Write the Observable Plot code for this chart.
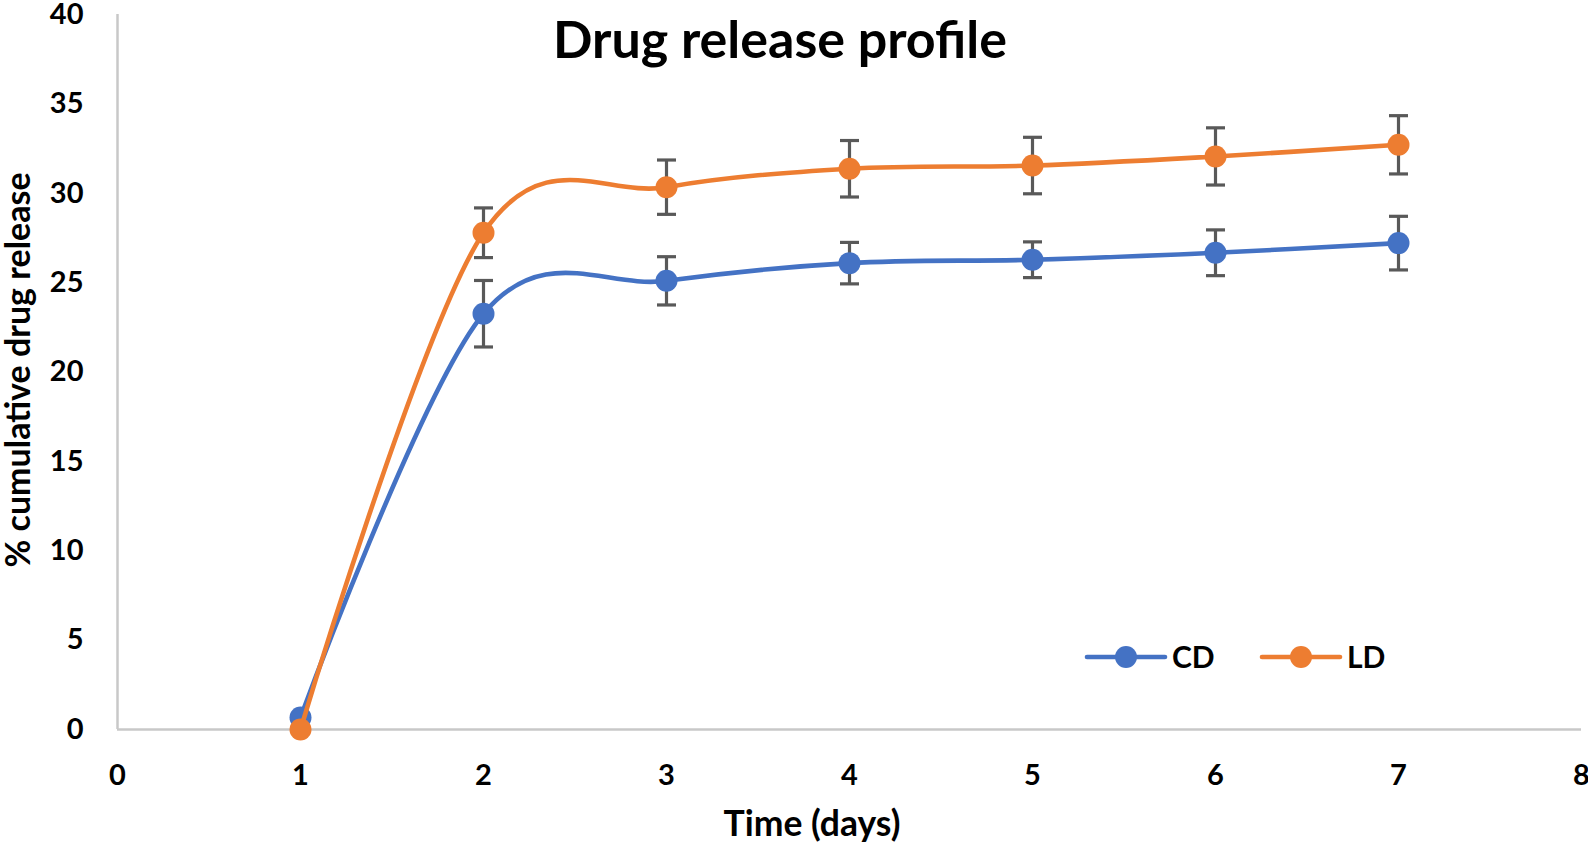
<!DOCTYPE html>
<html>
<head>
<meta charset="utf-8">
<script src="https://cdn.jsdelivr.net/npm/d3@7"></script>
<script src="https://cdn.jsdelivr.net/npm/@observablehq/plot@0.6"></script>
<style>
  html, body { margin: 0; padding: 0; background: #fff; }
  #wrap { position: relative; width: 1588px; height: 845px; overflow: hidden; }
  #wrap > svg.plot { position: absolute; left: 0; top: 0; }
  #overlay { position: absolute; left: 0; top: 0; pointer-events: none; }
</style>
</head>
<body>
<div id="wrap"></div>
<script>
// ---- data ----
const days = [1, 2, 3, 4, 5, 6, 7];
const seriesNames = ["CD", "LD"];
const seriesColors = ["#4472C4", "#ED7D31"];
const cdValues = [0.67, 23.26, 25.10, 26.09, 26.28, 26.67, 27.21];
const cdErrors = [0, 1.86, 1.35, 1.16, 1.00, 1.28, 1.50];
const ldValues = [0.0, 27.79, 30.34, 31.37, 31.55, 32.06, 32.71];
const ldErrors = [0, 1.39, 1.52, 1.58, 1.58, 1.60, 1.63];
const xTicks = [0, 1, 2, 3, 4, 5, 6, 7, 8];
const yTicks = [0, 5, 10, 15, 20, 25, 30, 35, 40];
const titleText = "Drug release profile";
const xLabel = "Time (days)";
const yLabel = "% cumulative drug release";

const seriesValues = {CD: cdValues, LD: ldValues};
const seriesErrors = {CD: cdErrors, LD: ldErrors};
const rows = seriesNames.flatMap(s => days.map((d, i) => ({
  series: s, day: d, value: seriesValues[s][i], err: seriesErrors[s][i]
})));

const W = 1588, H = 845;
const FONT = "Lato, 'Open Sans', sans-serif";
const errColor = "#595959";
const capSymbol = {draw(ctx) { ctx.moveTo(-9.5, 0); ctx.lineTo(9.5, 0); }};

const seriesMarks = seriesNames.flatMap(s => {
  const sub = rows.filter(r => r.series === s);
  const withErr = sub.filter(r => r.err > 0);
  return [
    Plot.line(sub, {x: "day", y: "value", stroke: "series", strokeWidth: 4.6,
      curve: "cardinal", strokeLinecap: "round", strokeLinejoin: "round"}),
    Plot.ruleX(withErr, {x: "day", y1: r => r.value - r.err, y2: r => r.value + r.err,
      stroke: errColor, strokeWidth: 3.2}),
    Plot.dot(withErr, {x: "day", y: r => r.value + r.err, symbol: capSymbol, r: 5,
      fill: "none", stroke: errColor, strokeWidth: 3.2}),
    Plot.dot(withErr, {x: "day", y: r => r.value - r.err, symbol: capSymbol, r: 5,
      fill: "none", stroke: errColor, strokeWidth: 3.2}),
    Plot.dot(sub, {x: "day", y: "value", fill: "series", r: 11, stroke: "none"})
  ];
});

const chart = Plot.plot({
  width: W,
  height: H,
  marginTop: 14,
  marginBottom: 116,
  marginLeft: 117,
  marginRight: 7,
  style: {fontFamily: FONT, fontWeight: "bold", fontSize: "29px", color: "#000", background: "#fff"},
  x: {domain: [0, 8], axis: null},
  y: {domain: [0, 40], axis: null},
  color: {domain: seriesNames, range: seriesColors},
  marks: [
    Plot.ruleX([0], {stroke: "#C8C8C8", strokeWidth: 2.5}),
    Plot.ruleY([0], {stroke: "#C8C8C8", strokeWidth: 2.5}),
    Plot.axisY({ticks: yTicks, tickSize: 0, tickPadding: 34, label: null, fontSize: 29, fontWeight: "bold"}),
    Plot.axisX({ticks: xTicks, tickSize: 0, tickPadding: 35, label: null, fontSize: 29, fontWeight: "bold"}),
    ...seriesMarks
  ]
});
chart.classList.add("plot");
const wrap = document.getElementById("wrap");
wrap.appendChild(chart);

// ---- overlay: title, axis titles, legend ----
const ov = d3.select(wrap).append("svg").attr("id", "overlay")
  .attr("width", W).attr("height", H)
  .style("font-family", FONT).style("font-weight", "bold");

ov.append("text").attr("x", 780).attr("y", 58).attr("text-anchor", "middle")
  .attr("font-size", 52).attr("fill", "#000").text(titleText);

ov.append("text").attr("x", 812).attr("y", 836).attr("text-anchor", "middle")
  .attr("font-size", 35.5).attr("fill", "#000").text(xLabel);

ov.append("text").attr("transform", "translate(30,370) rotate(-90)").attr("text-anchor", "middle")
  .attr("font-size", 34).attr("fill", "#000").text(yLabel);

const legendX = [1087, 1262];
seriesNames.forEach((s, i) => {
  const g = ov.append("g").attr("transform", `translate(${legendX[i]},657)`);
  g.append("line").attr("x1", 0).attr("x2", 78).attr("y1", 0).attr("y2", 0)
    .attr("stroke", seriesColors[i]).attr("stroke-width", 4.6).attr("stroke-linecap", "round");
  g.append("circle").attr("cx", 39).attr("cy", 0).attr("r", 11).attr("fill", seriesColors[i]);
  g.append("text").attr("x", 85).attr("y", 10.5).attr("font-size", 30).attr("fill", "#000").text(s);
});
</script>
</body>
</html>
